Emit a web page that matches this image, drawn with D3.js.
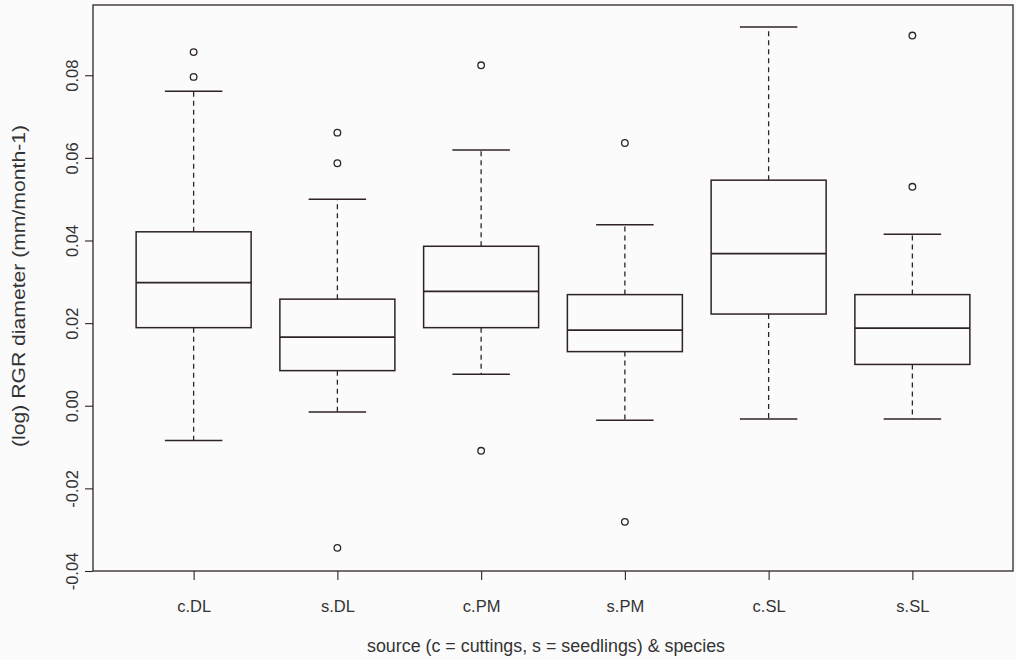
<!DOCTYPE html>
<html><head><meta charset="utf-8">
<script src="https://cdn.jsdelivr.net/npm/d3@7"></script>
<style>
html,body{margin:0;padding:0;background:#fbfbfb;}
svg{display:block;font-family:"Liberation Sans",Arial,sans-serif;}
</style></head>
<body><svg id="chart" width="1016" height="660"></svg>
<script>
// Data
const categories = ["c.DL","s.DL","c.PM","s.PM","c.SL","s.SL"];
const lowerWhisker = [-0.0084, -0.0015, 0.0076, -0.0035, -0.0032, -0.0032];
const q1 =           [0.0189, 0.0085, 0.0189, 0.0131, 0.0222, 0.0100];
const median =       [0.0298, 0.0166, 0.0277, 0.0183, 0.0368, 0.0188];
const q3 =           [0.0421, 0.0258, 0.0386, 0.0269, 0.0546, 0.0269];
const upperWhisker = [0.0761, 0.0500, 0.0619, 0.0438, 0.0917, 0.0415];
const outliers = [
  [0.0856, 0.0796],
  [0.0661, 0.0587, -0.0344],
  [0.0824, -0.0109],
  [0.0636, -0.0281],
  [],
  [0.0896, 0.0530]
];
const yTicks = [-0.04, -0.02, 0.00, 0.02, 0.04, 0.06, 0.08];
const yTitle = "(log) RGR diameter (mm/month-1)";
const xTitle = "source (c = cuttings, s = seedlings) & species";

const col = "#2e2329";
const txt = "#333";
const mL = 93, mR = 1013, mT = 5, mB = 571;
const svg = d3.select("#chart");

const x = d3.scalePoint().domain(categories).range([mL, mR]).padding(0.7);
const y = d3.scaleLinear().domain([-0.04, 0.097]).range([mB, mT]);
const step = x.step();
const bw = step * 0.8, cw = bw * 0.5;

// frame
svg.append("rect").attr("x", mL).attr("y", mT).attr("width", mR - mL).attr("height", mB - mT)
  .attr("fill", "none").attr("stroke", col).attr("stroke-width", 1.3);

// y axis (labels rotated, parallel to the axis)
const yAxis = d3.axisLeft(y).tickValues(yTicks).tickFormat(d => d.toFixed(2)).tickSize(8).tickSizeOuter(0).tickPadding(10);
const gy = svg.append("g").attr("transform", `translate(${mL},0)`).call(yAxis);
gy.select(".domain").remove();
gy.selectAll("line").attr("stroke", col).attr("stroke-width", 1.1);
gy.selectAll("text").attr("fill", txt).attr("font-size", 16.5)
  .attr("x", 0).attr("dy", 0)
  .attr("text-anchor", "middle")
  .attr("transform", "translate(-15,0) rotate(-90)");

// x axis
const xAxis = d3.axisBottom(x).tickSize(9).tickSizeOuter(0).tickPadding(20);
const gx = svg.append("g").attr("transform", `translate(0,${mB})`).call(xAxis);
gx.select(".domain").remove();
gx.selectAll("line").attr("stroke", col).attr("stroke-width", 1.1);
gx.selectAll("text").attr("fill", txt).attr("font-size", 16.5);

// titles
svg.append("text").attr("transform", `translate(25,286) rotate(-90)`)
  .attr("text-anchor", "middle").attr("font-size", 18).attr("fill", txt)
  .attr("textLength", 322).attr("lengthAdjust", "spacingAndGlyphs").text(yTitle);
svg.append("text").attr("x", 546).attr("y", 652).attr("text-anchor", "middle")
  .attr("font-size", 17.5).attr("fill", txt)
  .attr("textLength", 358).attr("lengthAdjust", "spacingAndGlyphs").text(xTitle);

// boxes
const g = svg.append("g");
categories.forEach((c, i) => {
  const cx = x(c);
  g.append("line").attr("x1", cx).attr("x2", cx).attr("y1", y(q3[i])).attr("y2", y(upperWhisker[i]))
    .attr("stroke", col).attr("stroke-width", 1.3).attr("stroke-dasharray", "5,4");
  g.append("line").attr("x1", cx).attr("x2", cx).attr("y1", y(q1[i])).attr("y2", y(lowerWhisker[i]))
    .attr("stroke", col).attr("stroke-width", 1.3).attr("stroke-dasharray", "5,4");
  [upperWhisker[i], lowerWhisker[i]].forEach(v => {
    g.append("line").attr("x1", cx - cw / 2).attr("x2", cx + cw / 2).attr("y1", y(v)).attr("y2", y(v))
      .attr("stroke", col).attr("stroke-width", 1.5);
  });
  g.append("rect").attr("x", cx - bw / 2).attr("width", bw).attr("y", y(q3[i])).attr("height", y(q1[i]) - y(q3[i]))
    .attr("fill", "none").attr("stroke", col).attr("stroke-width", 1.5);
  g.append("line").attr("x1", cx - bw / 2).attr("x2", cx + bw / 2).attr("y1", y(median[i])).attr("y2", y(median[i]))
    .attr("stroke", col).attr("stroke-width", 1.8);
  outliers[i].forEach(v => {
    g.append("circle").attr("cx", cx).attr("cy", y(v)).attr("r", 3.3)
      .attr("fill", "none").attr("stroke", col).attr("stroke-width", 1.3);
  });
});
</script></body></html>
